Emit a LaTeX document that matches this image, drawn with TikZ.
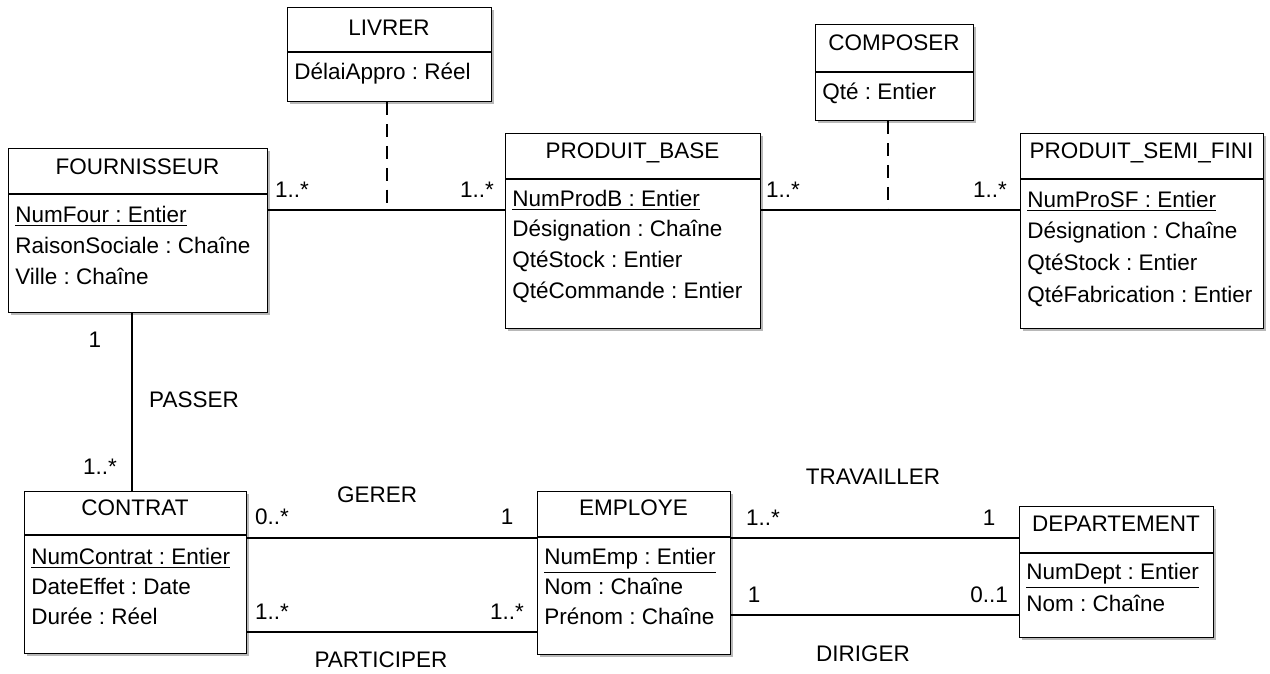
\documentclass[tikz,border=0pt]{standalone}
\usepackage{fontspec}
\setmainfont{Liberation Sans}
\usetikzlibrary{shadows}
\frenchspacing

\begin{document}
\begin{tikzpicture}[x=0.02cm,y=-0.02cm,
  classe/.style 2 args={draw,line width=0.8pt,fill=white,anchor=north west,inner sep=0pt,
    minimum width=#1*0.02cm,minimum height=#2*0.02cm,
    drop shadow={shadow xshift=0.05cm,shadow yshift=-0.05cm,fill=black!28,opacity=1}},
  txt/.style={font=\fontsize{12.8}{15}\selectfont,inner sep=0pt,text height=9.5pt,text depth=0.5pt},
  attr/.style={txt,anchor=west},
  sepfort/.style={line width=1.6pt},
  sepfin/.style={line width=0.8pt},
  lien/.style={line width=0.6pt},
  pointille/.style={line width=0.6pt,dash pattern=on 7.4pt off 5pt}]
\useasboundingbox (0,0) rectangle (1270,673);

% FOURNISSEUR
\node[classe={259}{164}] (four) at (8,148) {};
\draw[sepfort] (8,194) -- (267,194);
\node[txt] (four-titre) at (137.5,167) {FOURNISSEUR};
\node[attr] (four-a1) at (15,215) {\underline{NumFour : Entier}};
\node[attr] (four-a2) at (15,246) {RaisonSociale : Chaîne};
\node[attr] (four-a3) at (15,277) {Ville : Chaîne};

% LIVRER
\node[classe={204}{94}] (livrer) at (287,7) {};
\draw[sepfort] (287,52) -- (491,52);
\node[txt] (livrer-titre) at (389,28) {LIVRER};
\node[attr] (livrer-a1) at (294,72) {DélaiAppro : Réel};

% PRODUIT_BASE
\node[classe={255}{195}] (pbase) at (505,133) {};
\draw[sepfort] (505,179) -- (760,179);
\node[txt] (pbase-titre) at (632.5,151) {PRODUIT\_BASE};
\node[attr] (pbase-a1) at (512,199) {\underline{NumProdB : Entier}};
\node[attr] (pbase-a2) at (512,229) {Désignation : Chaîne};
\node[attr] (pbase-a3) at (512,260) {QtéStock : Entier};
\node[attr] (pbase-a4) at (512,291) {QtéCommande : Entier};

% COMPOSER
\node[classe={158}{96}] (composer) at (815,24) {};
\draw[sepfin] (815,72) -- (973,72);
\node[txt] (composer-titre) at (894,43) {COMPOSER};
\node[attr] (composer-a1) at (822,92) {Qté : Entier};

% PRODUIT_SEMI_FINI
\node[classe={243}{195}] (psf) at (1020,133) {};
\draw[sepfort] (1020,179) -- (1263,179);
\node[txt] (psf-titre) at (1141.5,151) {PRODUIT\_SEMI\_FINI};
\node[attr] (psf-a1) at (1027,200) {\underline{NumProSF : Entier}};
\node[attr] (psf-a2) at (1027,231) {Désignation : Chaîne};
\node[attr] (psf-a3) at (1027,263) {QtéStock : Entier};
\node[attr] (psf-a4) at (1027,295) {QtéFabrication : Entier};

% CONTRAT
\node[classe={222}{162}] (contrat) at (24,491) {};
\draw[sepfort] (24,535) -- (246,535);
\node[txt] (contrat-titre) at (135,508) {CONTRAT};
\node[attr] (contrat-a1) at (31,557) {\underline{NumContrat : Entier}};
\node[attr] (contrat-a2) at (31,587) {DateEffet : Date};
\node[attr] (contrat-a3) at (31,617) {Durée : Réel};

% EMPLOYE
\node[classe={193}{163}] (employe) at (537,491) {};
\draw[sepfin] (537,537) -- (730,537);
\node[txt] (employe-titre) at (633.5,508) {EMPLOYE};
\node[attr] (employe-a1) at (544,557) {\underline{NumEmp : Entier}};
\node[attr] (employe-a2) at (544,587) {Nom : Chaîne};
\node[attr] (employe-a3) at (544,617) {Prénom : Chaîne};

% DEPARTEMENT
\node[classe={194}{131}] (dept) at (1019,506) {};
\draw[sepfin] (1019,553) -- (1213,553);
\node[txt] (dept-titre) at (1116,524) {DEPARTEMENT};
\node[attr] (dept-a1) at (1026,572) {\underline{NumDept : Entier}};
\node[attr] (dept-a2) at (1026,604) {Nom : Chaîne};

% associations
\coordinate (livrer-c) at (387,210);
\coordinate (composer-c) at (888,210);
\coordinate (passer-c) at (132,400);
\coordinate (gerer-c) at (390,538);
\coordinate (participer-c) at (390,632);
\coordinate (travailler-c) at (870,538);
\coordinate (diriger-c) at (870,615);

\draw[lien] (four.east |- livrer-c) -- (pbase.west |- livrer-c);
\draw[pointille] (livrer.south -| livrer-c) -- (livrer-c);
\draw[lien] (pbase.east |- composer-c) -- (psf.west |- composer-c);
\draw[pointille] (composer.south -| composer-c) -- (composer-c);
\draw[lien] (four.south -| passer-c) -- (contrat.north -| passer-c);
\draw[lien] (contrat.east |- gerer-c) -- (employe.west |- gerer-c);
\draw[lien] (contrat.east |- participer-c) -- (employe.west |- participer-c);
\draw[lien] (employe.east |- travailler-c) -- (dept.west |- travailler-c);
\draw[lien] (employe.east |- diriger-c) -- (dept.west |- diriger-c);

% noms et multiplicites
\node[txt] (m-livrer-1) at (292,190) {1..*};
\node[txt] (m-livrer-2) at (477,190) {1..*};
\node[txt] (m-composer-1) at (783,190) {1..*};
\node[txt] (m-composer-2) at (990,190) {1..*};
\node[txt] (passer) at (194,400) {PASSER};
\node[txt] (m-passer-1) at (95,340) {1};
\node[txt] (m-passer-2) at (100,467) {1..*};
\node[txt] (gerer) at (377,495) {GERER};
\node[txt] (m-gerer-1) at (272,517) {0..*};
\node[txt] (m-gerer-2) at (507,517) {1};
\node[txt] (participer) at (381,660) {PARTICIPER};
\node[txt] (m-participer-1) at (272,612) {1..*};
\node[txt] (m-participer-2) at (507,612) {1..*};
\node[txt] (travailler) at (873,477) {TRAVAILLER};
\node[txt] (m-travailler-1) at (763,518) {1..*};
\node[txt] (m-travailler-2) at (989,518) {1};
\node[txt] (diriger) at (863,654) {DIRIGER};
\node[txt] (m-diriger-1) at (754,595) {1};
\node[txt] (m-diriger-2) at (989,595) {0..1};
\end{tikzpicture}
\end{document}
